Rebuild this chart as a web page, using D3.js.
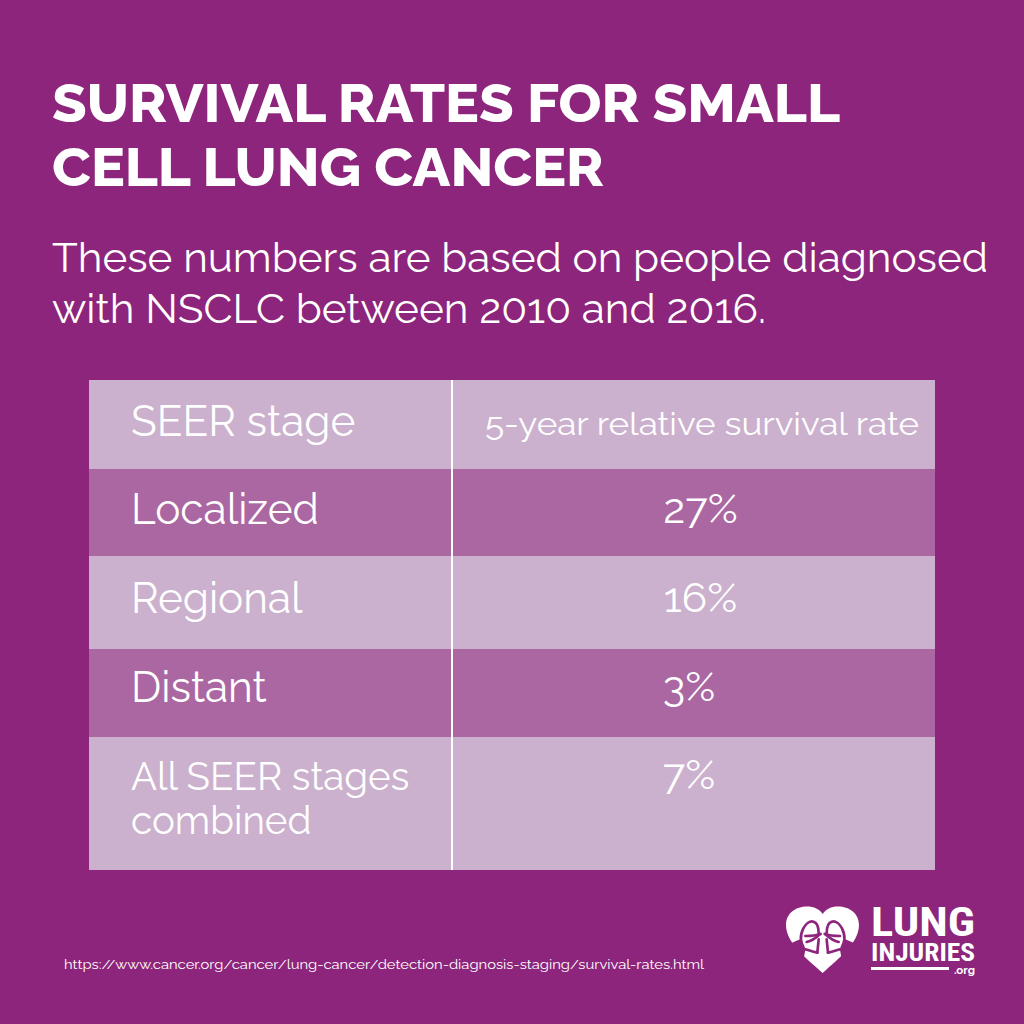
<!DOCTYPE html>
<html><head><meta charset="utf-8">
<script src="https://cdn.jsdelivr.net/npm/d3@7"></script>
<style>html,body{margin:0;padding:0;background:#8c257b}svg{display:block}</style>
</head><body><div id="c"></div>
<script>
const titleLines = ["SURVIVAL RATES FOR SMALL", "CELL LUNG CANCER"];
const subtitleLines = ["These numbers are based on people diagnosed", "with NSCLC between 2010 and 2016."];
const headers = ["SEER stage", "5-year relative survival rate"];
const stages = [["Localized"], ["Regional"], ["Distant"], ["All SEER stages", "combined"]];
const rates = ["27%", "16%", "3%", "7%"];
const rowEdges = [380, 469, 556, 649, 737, 870];
const source = "https://www.cancer.org/cancer/lung-cancer/detection-diagnosis-staging/survival-rates.html";

const font = "Raleway, Montserrat, Lato, 'Open Sans', sans-serif";
const bg = "#8c257b";
const svg = d3.select("#c").append("svg").attr("width",1024).attr("height",1024);
svg.append("rect").attr("width",1024).attr("height",1024).attr("fill",bg);

const txt=(x,y,s,size,o={})=>svg.append("text").attr("x",x).attr("y",y).text(s)
  .attr("font-family",o.f||font).attr("font-size",size).attr("fill","#fff")
  .attr("font-weight",o.w||400).attr("text-anchor",o.a||"start")
  .attr("textLength",o.len||null).attr("lengthAdjust",o.len?"spacingAndGlyphs":null);

txt(52,122,titleLines[0],54,{w:800,len:788});
txt(52,186,titleLines[1],54,{w:800,len:552});
txt(52,272,subtitleLines[0],41,{len:936});
txt(52,323,subtitleLines[1],41,{len:714});

const rows=[[[headers[0]],headers[1]]].concat(stages.map((s,i)=>[s,rates[i]]));
const x0=89,x1=935,xm=452;
rows.forEach((r,i)=>{
  const top=rowEdges[i],bot=rowEdges[i+1];
  svg.append("rect").attr("x",x0).attr("y",top).attr("width",x1-x0).attr("height",bot-top)
    .attr("fill",i%2===0?"#cbb1cd":"#aa67a2");
});
svg.append("line").attr("x1",xm).attr("x2",xm).attr("y1",380).attr("y2",870).attr("stroke","#fff").attr("stroke-width",2);
const lblY=[436,524,613,702,790];
const rateY=[435,523,612,701,789];
const rateX=[0,700.5,700.5,689,689];
rows.forEach((r,i)=>{
  r[0].forEach((t,j)=>txt(131,lblY[i]+j*44,t,i===4?38.5:42.3));
  if(i===0) txt(702,435,r[1],32,{a:"middle",len:434});
  else txt(rateX[i],rateY[i],r[1],42,{a:"middle"});
});
txt(64,969,source,13.6,{len:640});

// logo: heart with lungs, path units are 3x crop pixels
const g=svg.append("g");
g.append("path").attr("fill","#fff").attr("d","M822.7 973 C806 958 786 943 786 925 C786 913 796 906.5 807 906.5 C814 906.5 819.5 909 822.7 914 C826 909 831 906.5 838 906.5 C849 906.5 859 913 859 925 C859 943 839 958 822.7 973 Z");
const lungG=g.append("g").attr("transform","translate(780,900) scale(0.3333)");
const side=[1,-1];
side.forEach(s=>{
  const m=lungG.append("g").attr("transform",s<0?"translate(256,0) scale(-1,1)":null);
  m.append("path").attr("fill",bg).attr("d","M36 128 L60 118 L76 150 L72 172 L52 170 Z");
  const st=m.append("g").attr("fill","none").attr("stroke",bg).attr("stroke-width",8).attr("stroke-linecap","round").attr("stroke-linejoin","round");
  st.append("path").attr("d","M112 158 C96 155 86 150 72 146 C62 126 58 110 70 85 C78 70 90 62 100 65 C112 68 116 82 116 100");
  st.append("path").attr("d","M76 108 C90 108 105 108 122 102");
  st.append("path").attr("d","M80 126 C92 123 105 116 118 104");
  st.append("path").attr("d","M116 118 L112 158");
});
const cond = "'Roboto Condensed', 'Liberation Sans Narrow', Roboto, sans-serif";
txt(871,936,"LUNG",40,{f:cond,w:700,len:104});
txt(871,961,"INJURIES",26.5,{f:cond,w:700,len:104});
svg.append("rect").attr("x",871).attr("y",967).attr("width",78).attr("height",3).attr("fill","#fff");
txt(975,974,".org",11.5,{w:700,a:"end"});
</script></body></html>
